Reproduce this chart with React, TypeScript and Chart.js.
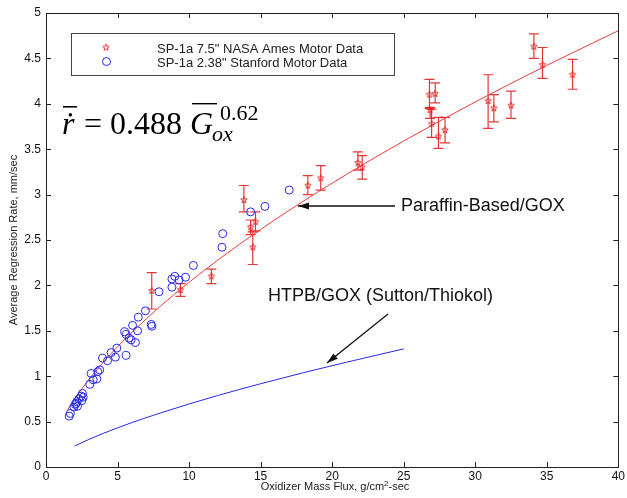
import React, { useEffect, useRef } from "react";
import { Chart, registerables } from "chart.js";
Chart.register(...registerables);

const xTicks = [0, 5, 10, 15, 20, 25, 30, 35, 40];
const yTicks = [0, 0.5, 1, 1.5, 2, 2.5, 3, 3.5, 4, 4.5, 5];

// SP-1a 7.5" NASA Ames Motor Data (flux, rate, error low, error high)
const nasaFlux = [7.39, 9.4, 11.56, 13.83, 14.3, 14.64, 14.45, 18.3, 19.2, 21.8, 22.1, 26.8, 27.2, 26.85, 26.95, 27.43, 27.89, 30.9, 31.3, 32.5, 34.1, 34.7, 36.8];
const nasaRate = [1.94, 1.95, 2.1, 2.94, 2.64, 2.7, 2.42, 3.1, 3.18, 3.35, 3.3, 4.1, 4.11, 3.93, 3.78, 3.64, 3.71, 4.03, 3.95, 3.98, 4.63, 4.43, 4.32];
const nasaLow = [1.74, 1.88, 2.02, 2.81, 2.56, 2.6, 2.23, 3.0, 3.05, 3.27, 3.17, 3.95, 4.01, 3.84, 3.63, 3.51, 3.57, 3.73, 3.8, 3.84, 4.5, 4.28, 4.16];
const nasaHigh = [2.14, 2.02, 2.18, 3.1, 2.72, 2.81, 2.59, 3.21, 3.32, 3.47, 3.43, 4.27, 4.23, 3.96, 3.94, 3.85, 3.85, 4.32, 4.1, 4.14, 4.77, 4.62, 4.49];

// SP-1a 2.38" Stanford Motor Data
const stanfordFlux = [1.62, 1.7, 1.95, 2.05, 2.1, 2.15, 2.2, 2.3, 2.45, 2.5, 2.55, 2.6, 3.06, 3.15, 3.3, 3.55, 3.62, 3.75, 3.95, 4.3, 4.55, 4.85, 4.95, 5.6, 5.5, 5.6, 5.8, 5.95, 6.25, 6.05, 6.4, 6.45, 6.95, 7.35, 7.4, 7.9, 8.8, 8.8, 9.0, 9.3, 9.75, 10.3, 12.35, 12.3, 14.3, 15.3, 17.0];
const stanfordRate = [0.56, 0.59, 0.66, 0.69, 0.7, 0.72, 0.67, 0.75, 0.78, 0.73, 0.81, 0.77, 0.91, 1.03, 0.96, 0.97, 1.05, 1.07, 1.2, 1.17, 1.26, 1.21, 1.31, 1.23, 1.49, 1.46, 1.42, 1.4, 1.37, 1.56, 1.5, 1.65, 1.72, 1.57, 1.55, 1.93, 1.98, 2.07, 2.1, 2.06, 2.09, 2.22, 2.57, 2.42, 2.81, 2.87, 3.05];

// Paraffin-based/GOX fit curve, r = 0.488 G^0.62
const fitFlux = [1.5, 2, 3, 4, 5, 6, 8, 10, 12, 15, 18, 21, 25, 30, 35, 40];
const fitRate = [0.627, 0.75, 0.964, 1.153, 1.324, 1.482, 1.772, 2.034, 2.278, 2.616, 2.929, 3.222, 3.59, 4.02, 4.423, 4.805];

// HTPB/GOX (Sutton/Thiokol)
const htpbFlux = [2, 3, 4, 5, 6, 8, 10, 12, 15, 18, 21, 25];
const htpbRate = [0.23, 0.304, 0.37, 0.431, 0.489, 0.595, 0.694, 0.787, 0.917, 1.039, 1.154, 1.301];

const RED = "rgb(230,30,30)";
const BLUE = "rgb(40,40,235)";

function makeStar(color: string, outer: number, inner: number) {
  const size = Math.ceil(outer * 2 + 3);
  const c = document.createElement("canvas");
  c.width = size;
  c.height = size;
  const g = c.getContext("2d")!;
  g.strokeStyle = color;
  g.lineWidth = 0.9;
  g.beginPath();
  for (let i = 0; i < 10; i++) {
    const a = -Math.PI / 2 + (i * Math.PI) / 5;
    const r = i % 2 ? inner : outer;
    const px = size / 2 + r * Math.cos(a);
    const py = size / 2 + r * Math.sin(a);
    if (i === 0) g.moveTo(px, py);
    else g.lineTo(px, py);
  }
  g.closePath();
  g.stroke();
  return c;
}

export default function App() {
  const ref = useRef<HTMLCanvasElement>(null);
  useEffect(() => {
    document.body.style.margin = "0";
    const star = makeStar(RED, 3.4, 1.5);
    const legendStar = makeStar(RED, 3.4, 1.5);

    const errorBars = {
      id: "errorBars",
      beforeDatasetsDraw(chart: any) {
        const { ctx } = chart;
        const xs = chart.scales.x;
        const ys = chart.scales.y;
        ctx.save();
        ctx.strokeStyle = "rgba(225,20,20,0.85)";
        ctx.lineWidth = 1.2;
        for (let i = 0; i < nasaFlux.length; i++) {
          const x = xs.getPixelForValue(nasaFlux[i]);
          const y1 = ys.getPixelForValue(nasaLow[i]);
          const y2 = ys.getPixelForValue(nasaHigh[i]);
          ctx.beginPath();
          ctx.moveTo(x, y1);
          ctx.lineTo(x, y2);
          ctx.moveTo(x - 5, y1);
          ctx.lineTo(x + 5, y1);
          ctx.moveTo(x - 5, y2);
          ctx.lineTo(x + 5, y2);
          ctx.stroke();
        }
        ctx.restore();
      },
    };

    const overlay = {
      id: "overlay",
      afterDraw(chart: any) {
        const { ctx, chartArea: a } = chart;
        const xs = chart.scales.x;
        const ys = chart.scales.y;
        ctx.save();
        // frame
        ctx.strokeStyle = "#222";
        ctx.lineWidth = 1;
        ctx.strokeRect(Math.round(a.left) + 0.5, Math.round(a.top) + 0.5, Math.round(a.right - a.left), Math.round(a.bottom - a.top));
        // inward ticks
        ctx.beginPath();
        for (const t of xTicks) {
          const x = Math.round(xs.getPixelForValue(t)) + 0.5;
          ctx.moveTo(x, a.bottom);
          ctx.lineTo(x, a.bottom - 5);
          ctx.moveTo(x, a.top);
          ctx.lineTo(x, a.top + 5);
        }
        for (const t of yTicks) {
          const y = Math.round(ys.getPixelForValue(t)) + 0.5;
          ctx.moveTo(a.left, y);
          ctx.lineTo(a.left + 5, y);
          ctx.moveTo(a.right, y);
          ctx.lineTo(a.right - 5, y);
        }
        ctx.stroke();

        // axis titles
        ctx.fillStyle = "#222";
        ctx.textBaseline = "alphabetic";
        const p1 = "Oxidizer Mass Flux, g/cm";
        const p2 = "2";
        const p3 = "-sec";
        ctx.font = '11px "Liberation Sans", Arial, sans-serif';
        const w1 = ctx.measureText(p1).width;
        const w3 = ctx.measureText(p3).width;
        ctx.font = '8px "Liberation Sans", Arial, sans-serif';
        const w2 = ctx.measureText(p2).width;
        const sx = 335 - (w1 + w2 + w3) / 2;
        ctx.textAlign = "left";
        ctx.font = '11px "Liberation Sans", Arial, sans-serif';
        ctx.fillText(p1, sx, 490);
        ctx.font = '8px "Liberation Sans", Arial, sans-serif';
        ctx.fillText(p2, sx + w1, 486);
        ctx.font = '11px "Liberation Sans", Arial, sans-serif';
        ctx.fillText(p3, sx + w1 + w2, 490);

        ctx.save();
        ctx.translate(17, 240);
        ctx.rotate(-Math.PI / 2);
        ctx.textAlign = "center";
        ctx.fillText("Average Regression Rate, mm/sec", 0, 0);
        ctx.restore();

        // legend
        ctx.strokeStyle = "#444";
        ctx.lineWidth = 1;
        ctx.fillStyle = "#fff";
        ctx.fillRect(72, 34, 322, 41);
        ctx.strokeRect(71.5, 33.5, 323, 42);
        ctx.drawImage(legendStar, 106 - legendStar.width / 2, 47.5 - legendStar.height / 2);
        ctx.beginPath();
        ctx.strokeStyle = BLUE;
        ctx.arc(106.5, 61.5, 4, 0, Math.PI * 2);
        ctx.stroke();
        ctx.fillStyle = "#222";
        ctx.font = '13px "Liberation Sans", Arial, sans-serif';
        ctx.textAlign = "left";
        ctx.textBaseline = "alphabetic";
        ctx.fillText('SP-1a 7.5" NASA Ames Motor Data', 157, 53);
        ctx.fillText('SP-1a 2.38" Stanford Motor Data', 157, 66.5);

        // equation
        ctx.fillStyle = "#000";
        ctx.font = 'italic 32px "Liberation Serif", "Times New Roman", serif';
        ctx.fillText("\u1E59", 62, 134);
        ctx.font = '32px "Liberation Serif", "Times New Roman", serif';
        ctx.fillText("=", 84, 134);
        ctx.fillText("0.488", 110, 134);
        ctx.font = 'italic 32px "Liberation Serif", "Times New Roman", serif';
        ctx.fillText("G", 190, 134);
        ctx.font = 'italic 22px "Liberation Serif", "Times New Roman", serif';
        ctx.fillText("ox", 212, 141);
        ctx.font = '22px "Liberation Serif", "Times New Roman", serif';
        ctx.fillText("0.62", 220, 120);
        ctx.fillRect(63, 106, 14, 1.6);
        ctx.fillRect(192, 103, 25, 1.4);

        // annotations
        ctx.font = '18px "Liberation Sans", Arial, sans-serif';
        ctx.textBaseline = "middle";
        ctx.fillStyle = "#111";
        ctx.fillText("Paraffin-Based/GOX", 401, 206);
        ctx.fillText("HTPB/GOX (Sutton/Thiokol)", 268, 296);

        const arrow = (x1: number, y1: number, x2: number, y2: number) => {
          ctx.strokeStyle = "#111";
          ctx.fillStyle = "#111";
          ctx.lineWidth = 1.3;
          ctx.beginPath();
          ctx.moveTo(x1, y1);
          ctx.lineTo(x2, y2);
          ctx.stroke();
          const ang = Math.atan2(y2 - y1, x2 - x1);
          const L = 11, W = 3.5;
          ctx.beginPath();
          ctx.moveTo(x2, y2);
          ctx.lineTo(x2 - L * Math.cos(ang) + W * Math.sin(ang), y2 - L * Math.sin(ang) - W * Math.cos(ang));
          ctx.lineTo(x2 - L * Math.cos(ang) - W * Math.sin(ang), y2 - L * Math.sin(ang) + W * Math.cos(ang));
          ctx.closePath();
          ctx.fill();
        };
        arrow(395, 206, 298, 206);
        arrow(388, 314, 327, 363);
        ctx.restore();
      },
    };

    const tickFmt = (v: any) => String(Math.round(Number(v) * 100) / 100);

    const chart = new Chart(ref.current!, {
      type: "scatter",
      data: {
        datasets: [
          {
            label: "SP-1a 7.5\" NASA Ames Motor Data",
            data: nasaFlux.map((x, i) => ({ x, y: nasaRate[i] })),
            pointStyle: star as any,
            pointRadius: 4,
            showLine: false,
          },
          {
            label: "SP-1a 2.38\" Stanford Motor Data",
            data: stanfordFlux.map((x, i) => ({ x, y: stanfordRate[i] })),
            pointStyle: "circle",
            pointRadius: 4,
            borderColor: BLUE,
            backgroundColor: "rgba(0,0,0,0)",
            borderWidth: 1,
            showLine: false,
          },
          {
            label: "fit",
            data: fitFlux.map((x, i) => ({ x, y: fitRate[i] })),
            showLine: true,
            borderColor: "rgb(235,60,60)",
            borderWidth: 1,
            pointRadius: 0,
            cubicInterpolationMode: "monotone",
          },
          {
            label: "HTPB",
            data: htpbFlux.map((x, i) => ({ x, y: htpbRate[i] })),
            showLine: true,
            borderColor: BLUE,
            borderWidth: 1,
            pointRadius: 0,
            cubicInterpolationMode: "monotone",
          },
        ],
      },
      options: {
        animation: false,
        responsive: true,
        maintainAspectRatio: false,
        layout: { padding: { top: 13, right: 5, left: 0, bottom: 0 } },
        plugins: { legend: { display: false }, tooltip: { enabled: false } },
        scales: {
          x: {
            type: "linear",
            min: 0,
            max: 40,
            afterBuildTicks: (s: any) => {
              s.ticks = xTicks.map((v) => ({ value: v }));
            },
            afterFit: (s: any) => {
              s.height = 31;
            },
            ticks: { color: "#111", font: { size: 12, family: '"Liberation Sans", Arial, sans-serif' }, padding: 2, maxRotation: 0, callback: tickFmt },
            grid: { display: false, drawTicks: false },
            border: { display: false },
          },
          y: {
            type: "linear",
            min: 0,
            max: 5,
            afterBuildTicks: (s: any) => {
              s.ticks = yTicks.map((v) => ({ value: v }));
            },
            afterFit: (s: any) => {
              s.width = 46;
            },
            ticks: { color: "#111", font: { size: 12, family: '"Liberation Sans", Arial, sans-serif' }, padding: 5, callback: tickFmt },
            grid: { display: false, drawTicks: false },
            border: { display: false },
          },
        },
      },
      plugins: [errorBars, overlay],
    });
    return () => chart.destroy();
  }, []);
  return (
    <div style={{ width: 627, height: 498, position: "relative" }}>
      <canvas ref={ref} />
    </div>
  );
}
